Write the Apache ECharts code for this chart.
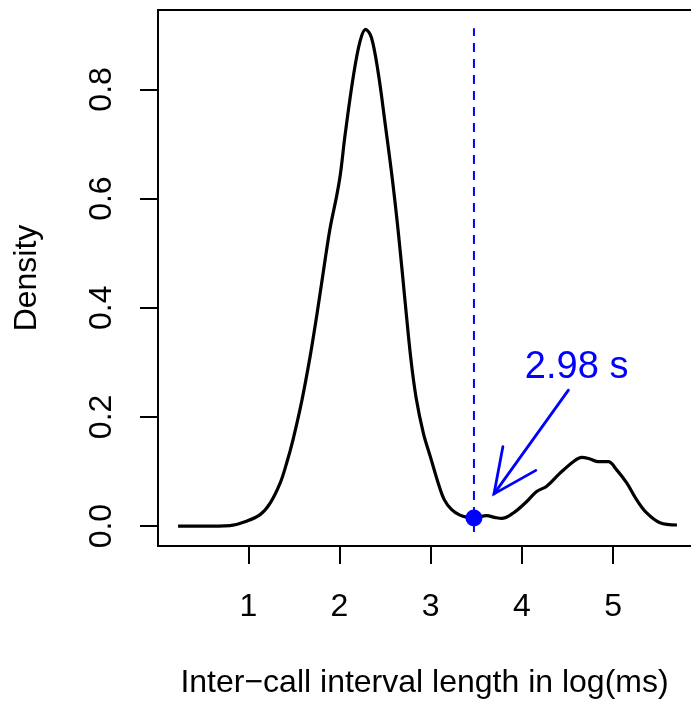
<!DOCTYPE html>
<html>
<head>
<meta charset="utf-8">
<script src="https://cdn.jsdelivr.net/npm/echarts@6/dist/echarts.min.js"></script>
<style>
  html, body { margin: 0; padding: 0; background: #fff; }
  #chart { width: 691px; height: 704px; }
</style>
</head>
<body>
<div id="chart"></div>
<script>
// Kernel density of inter-call interval lengths, x in log10(ms)
const densityX = [0.23, 0.50, 0.80, 0.98, 1.13, 1.24, 1.35, 1.42, 1.49, 1.585, 1.677, 1.75,
  1.822, 1.896, 1.969, 2.01, 2.06, 2.151, 2.225, 2.287, 2.35, 2.425, 2.50, 2.58, 2.65, 2.72,
  2.78, 2.84, 2.92, 3.00, 3.08, 3.15, 3.23, 3.32, 3.40, 3.474, 3.614, 3.70, 3.778, 3.906, 4.053, 4.162,
  4.272, 4.418, 4.564, 4.656, 4.747, 4.838, 4.947, 5.039, 5.149, 5.259, 5.368, 5.514, 5.70];
const densityY = [0.000, 0.000, 0.001, 0.009, 0.021, 0.042, 0.079, 0.115, 0.158, 0.228, 0.310, 0.385,
  0.465, 0.545, 0.605, 0.645, 0.715, 0.823, 0.888, 0.910, 0.895, 0.830, 0.738, 0.635, 0.530, 0.410,
  0.310, 0.235, 0.170, 0.125, 0.080, 0.048, 0.030, 0.020, 0.016, 0.015, 0.019, 0.016, 0.014, 0.024, 0.045, 0.0635,
  0.073, 0.097, 0.118, 0.126, 0.123, 0.118, 0.118, 0.103, 0.079, 0.048, 0.024, 0.006, 0.002];

const xTicks = [1, 2, 3, 4, 5];
const yTicks = [0, 0.2, 0.4, 0.6, 0.8];

// Threshold between the two modes, in seconds
const thresholdSeconds = 2.98;
const thresholdDensity = 0.015;
const thresholdLineSpan = [-0.011, 0.912];

// Annotation arrow (data coordinates) and its caption anchor
const arrowFrom = [4.51, 0.249];
const arrowTo = [3.694, 0.059];
const captionAt = [4.60, 0.29];

const xRange = [0.01, 5.854];
const yRange = [-0.0365, 0.9455];

const thresholdX = Math.log10(thresholdSeconds * 1000);
const curve = densityX.map((x, i) => [x, densityY[i]]);
const BLUE = '#0000ff';
const FONT = '"Liberation Sans", Arial, Helvetica, sans-serif';
const frameLine = { show: true, onZero: false, lineStyle: { color: '#000', width: 2 } };

const chart = echarts.init(document.getElementById('chart'), null, { renderer: 'canvas' });

chart.setOption({
  animation: false,
  backgroundColor: '#fff',
  grid: { left: 158, top: 10, width: 533, height: 536, show: false },
  xAxis: [
    {
      type: 'value', min: xRange[0], max: xRange[1],
      splitLine: { show: false },
      axisLine: frameLine,
      axisTick: { show: true, length: 18, customValues: xTicks, lineStyle: { color: '#000', width: 2 } },
      axisLabel: {
        customValues: xTicks, margin: 45, color: '#000', fontSize: 32, fontFamily: FONT,
        formatter: v => String(v)
      },
      name: 'Inter\u2212call interval length in log(ms)',
      nameLocation: 'middle', nameGap: 121,
      nameTextStyle: { color: '#000', fontSize: 32, fontFamily: FONT }
    },
    {
      type: 'value', position: 'top', min: xRange[0], max: xRange[1],
      splitLine: { show: false }, axisLine: frameLine,
      axisTick: { show: false }, axisLabel: { show: false }
    }
  ],
  yAxis: {
    type: 'value', min: yRange[0], max: yRange[1],
    splitLine: { show: false },
    axisLine: frameLine,
    axisTick: { show: true, length: 18, customValues: yTicks, lineStyle: { color: '#000', width: 2 } },
    axisLabel: {
      customValues: yTicks, margin: 40, rotate: 90, color: '#000', fontSize: 32, fontFamily: FONT,
      formatter: v => Number(v).toFixed(1)
    },
    name: 'Density',
    nameLocation: 'middle', nameGap: 115,
    nameTextStyle: { color: '#000', fontSize: 32, fontFamily: FONT }
  },
  series: [
    {
      name: 'density', type: 'line', data: curve, smooth: 0.35, symbol: 'none',
      lineStyle: { color: '#000', width: 3.2 }, z: 3
    },
    {
      name: 'threshold', type: 'line',
      data: thresholdLineSpan.map(y => [thresholdX, y]),
      symbol: 'none', lineStyle: { color: BLUE, width: 2, type: [9, 7] }, z: 2
    },
    {
      name: 'threshold point', type: 'scatter',
      data: [[thresholdX, thresholdDensity]],
      symbol: 'circle', symbolSize: 17, itemStyle: { color: BLUE, opacity: 1 }, z: 5
    },
    {
      name: 'arrow', type: 'custom', clip: false, z: 4,
      data: [[arrowFrom[0], arrowFrom[1], arrowTo[0], arrowTo[1]]],
      renderItem: (params, api) => {
        const p0 = api.coord([api.value(0), api.value(1)]);
        const p1 = api.coord([api.value(2), api.value(3)]);
        const ang = Math.atan2(p0[1] - p1[1], p0[0] - p1[0]);
        const len = 48, spread = 25 * Math.PI / 180;
        const h1 = [p1[0] + len * Math.cos(ang + spread), p1[1] + len * Math.sin(ang + spread)];
        const h2 = [p1[0] + len * Math.cos(ang - spread), p1[1] + len * Math.sin(ang - spread)];
        const style = { stroke: BLUE, lineWidth: 2.8, fill: null, lineCap: 'round' };
        return {
          type: 'group',
          children: [
            { type: 'line', shape: { x1: p0[0], y1: p0[1], x2: p1[0], y2: p1[1] }, style },
            { type: 'polyline', shape: { points: [h1, p1, h2] }, style }
          ]
        };
      }
    },
    {
      name: 'caption', type: 'scatter', data: [captionAt], symbolSize: 0, z: 6,
      itemStyle: { opacity: 1 },
      label: {
        show: true, position: 'inside', opacity: 1,
        formatter: () => thresholdSeconds.toFixed(2) + ' s',
        color: BLUE, fontSize: 38, fontFamily: FONT
      }
    }
  ]
});
</script>
</body>
</html>
